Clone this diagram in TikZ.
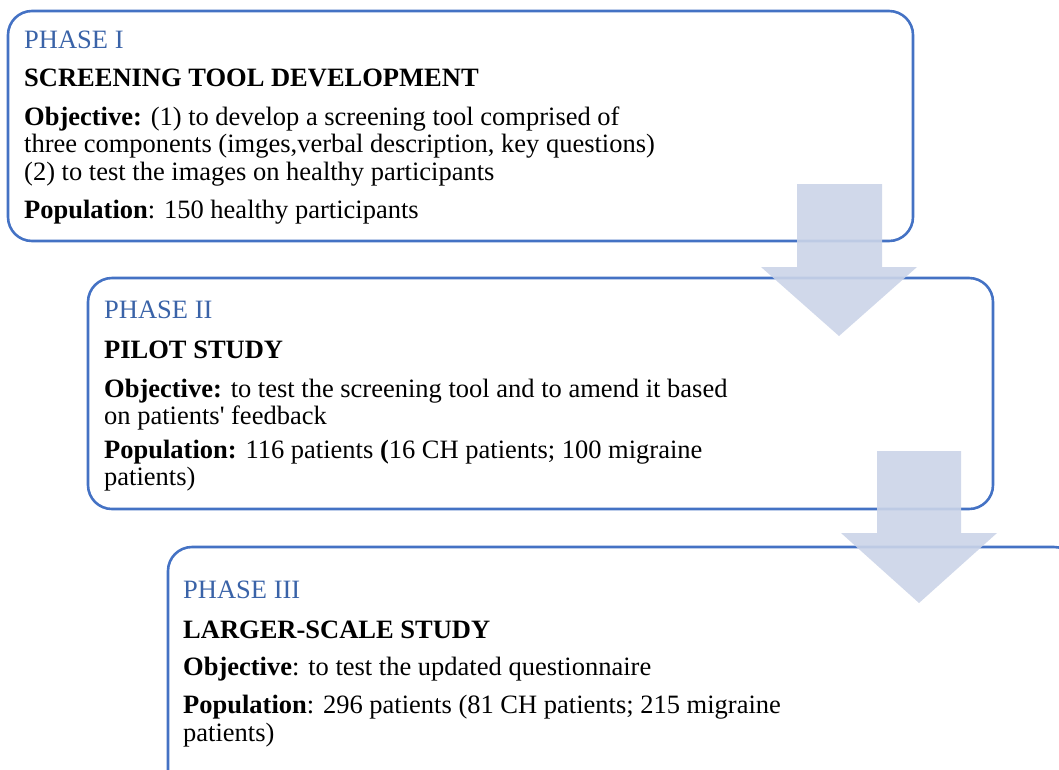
\documentclass[tikz,border=0pt]{standalone}
\usepackage{fontspec}
\setmainfont{Liberation Serif}
\definecolor{boxline}{RGB}{68,114,196}
\definecolor{phaseblue}{RGB}{58,99,168}
\definecolor{arrowfill}{RGB}{203,212,232}
\tikzset{
  phasebox/.style={draw=boxline, line width=2.6pt, rounded corners=24pt},
  txt/.style={anchor=base west, inner sep=0pt, font=\fontsize{26.5}{30}\selectfont},
  phasetitle/.style={txt, text=phaseblue},
  blockarrow/.style={fill=arrowfill, fill opacity=0.9, draw=none},
}
\begin{document}
\begin{tikzpicture}[x=1pt,y=-1pt]
\useasboundingbox (0,0) rectangle (1059,769);
\begin{scope}
\clip (0,0) rectangle (1059,769);
% boxes
\draw[phasebox] (8,11) rectangle (913,241);
\draw[phasebox] (88,278) rectangle (993,509);
\draw[phasebox] (168,547) rectangle (1078,800);
% box 1 text
\node[phasetitle] (t1) at (24,48) {PHASE I};
\node[txt] (h1) at (24,86) {\textbf{SCREENING TOOL DEVELOPMENT}};
\node[txt] (o1a) at (24,125) {\textbf{Objective:} (1) to develop a screening tool comprised of};
\node[txt] (o1b) at (24,152.5) {three components (imges,verbal description, key questions)};
\node[txt] (o1c) at (24,180) {(2) to test the images on healthy participants};
\node[txt] (p1) at (24,218) {\textbf{Population}: 150 healthy participants};
% box 2 text
\node[phasetitle] (t2) at (104,318) {PHASE II};
\node[txt] (h2) at (104,358) {\textbf{PILOT STUDY}};
\node[txt] (o2a) at (104,397) {\textbf{Objective:} to test the screening tool and to amend it based};
\node[txt] (o2b) at (104,424) {on patients\textquotesingle\ feedback};
\node[txt] (p2a) at (104,458) {\textbf{Population:} 116 patients \textbf{(}16 CH patients; 100 migraine};
\node[txt] (p2b) at (104,485) {patients)};
% box 3 text
\node[phasetitle] (t3) at (183,598) {PHASE III};
\node[txt] (h3) at (183,638) {\textbf{LARGER-SCALE STUDY}};
\node[txt] (o3) at (183,675) {\textbf{Objective}: to test the updated questionnaire};
\node[txt] (p3a) at (183,713) {\textbf{Population}: 296 patients (81 CH patients; 215 migraine};
\node[txt] (p3b) at (183,741) {patients)};
% block arrows
\fill[blockarrow] (797,184) -- (882,184) -- (882,267) -- (917,267) -- (839,336) -- (761,267) -- (797,267) -- cycle;
\fill[blockarrow] (877,451) -- (961,451) -- (961,533) -- (997,533) -- (919,603) -- (841,533) -- (877,533) -- cycle;
\end{scope}
\end{tikzpicture}
\end{document}
